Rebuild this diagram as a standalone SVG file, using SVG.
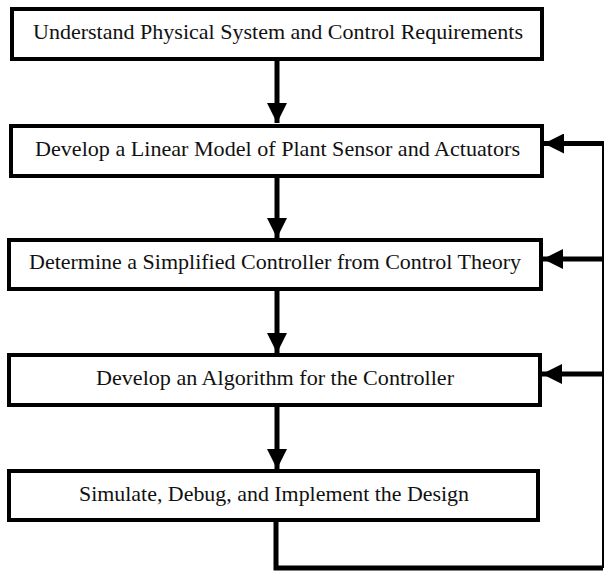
<svg xmlns="http://www.w3.org/2000/svg" width="604" height="575" viewBox="0 0 604 575">
<style>
.box{fill:#fff;stroke:#000;stroke-width:4}
.lbl{font-family:'Liberation Serif','Times New Roman',serif;font-size:22px;fill:#111;text-anchor:middle}
.con{fill:none;stroke:#000;stroke-width:5}
.thin{fill:none;stroke:#000;stroke-width:2}
</style>
<defs>
<marker id="ah" markerUnits="userSpaceOnUse" markerWidth="20" markerHeight="20" refX="20" refY="10" orient="auto" viewBox="0 0 20 20">
<path d="M0,0 L20,10 L0,20 Z" fill="#000"/>
</marker>
</defs>
<rect width="604" height="575" fill="#fff"/>
<g id="connectors">
<path class="con" d="M277,61 V123" marker-end="url(#ah)"/>
<path class="con" d="M277,178 V238" marker-end="url(#ah)"/>
<path class="con" d="M277,291 V353" marker-end="url(#ah)"/>
<path class="con" d="M277,407 V469" marker-end="url(#ah)"/>
<path class="con" d="M276,522 V568 H603"/>
<path class="thin" d="M603,568 V143"/>
<path class="con" d="M604,143.5 H544" marker-end="url(#ah)"/>
<path class="con" d="M604,259 H543" marker-end="url(#ah)"/>
<path class="con" d="M604,374 H542" marker-end="url(#ah)"/>
</g>
<g id="n1">
<rect class="box" x="12" y="9" width="530" height="50"/>
<text class="lbl" x="278" y="39" textLength="490" lengthAdjust="spacingAndGlyphs">Understand Physical System and Control Requirements</text>
</g>
<g id="n2">
<rect class="box" x="11" y="126" width="531" height="50"/>
<text class="lbl" x="277.5" y="156" textLength="485" lengthAdjust="spacingAndGlyphs">Develop a Linear Model of Plant Sensor and Actuators</text>
</g>
<g id="n3">
<rect class="box" x="9" y="240" width="532" height="49"/>
<text class="lbl" x="275" y="269" textLength="492" lengthAdjust="spacingAndGlyphs">Determine a Simplified Controller from Control Theory</text>
</g>
<g id="n4">
<rect class="box" x="9" y="355" width="531" height="50"/>
<text class="lbl" x="275" y="385" textLength="358" lengthAdjust="spacingAndGlyphs">Develop an Algorithm for the Controller</text>
</g>
<g id="n5">
<rect class="box" x="9" y="471" width="529" height="49"/>
<text class="lbl" x="274" y="501" textLength="390" lengthAdjust="spacingAndGlyphs">Simulate, Debug, and Implement the Design</text>
</g>
</svg>
